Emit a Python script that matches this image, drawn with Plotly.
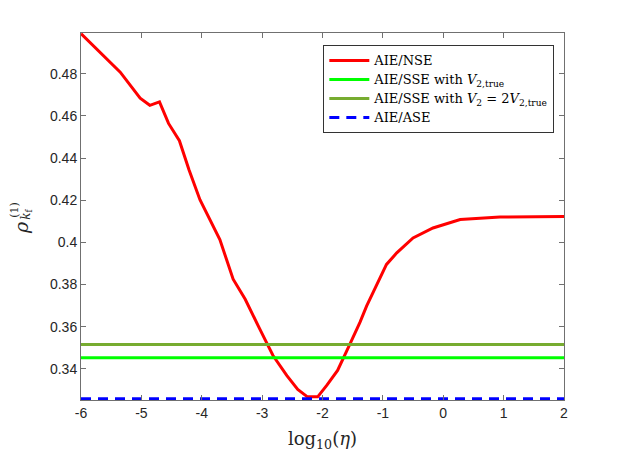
import plotly.graph_objects as go

# log10(eta) sample positions and AIE/NSE values
log_eta = [-6.0, -5.35, -5.02, -4.86, -4.70, -4.55, -4.37, -4.21, -4.03, -3.70,
           -3.48, -3.28, -3.04, -2.82, -2.59, -2.41, -2.25, -2.08, -1.93, -1.75,
           -1.55, -1.38, -1.27, -0.94, -0.77, -0.50, -0.17, 0.28, 0.94, 2.0]
rho_nse = [0.4990, 0.4807, 0.4684, 0.4650, 0.4666, 0.4564, 0.4482, 0.4343, 0.4202, 0.4013,
           0.3825, 0.3730, 0.3589, 0.3463, 0.3368, 0.3302, 0.3267, 0.3267, 0.3321, 0.3392,
           0.3515, 0.3620, 0.3697, 0.3895, 0.3950, 0.4021, 0.4068, 0.4108, 0.4120, 0.4123]

x_ends = [-6.0, 2.0]
rho_sse_true = 0.3452
rho_sse_2x = 0.3515
rho_ase = 0.3258

x_ticks = [-6, -5, -4, -3, -2, -1, 0, 1, 2]
x_tick_text = ["-6", "-5", "-4", "-3", "-2", "-1", "0", "1", "2"]
y_ticks = [0.34, 0.36, 0.38, 0.40, 0.42, 0.44, 0.46, 0.48]
y_tick_text = ["0.34", "0.36", "0.38", "0.4", "0.42", "0.44", "0.46", "0.48"]

serif = "DejaVu Serif, Liberation Serif, serif"
sans = "Liberation Sans, Arial, sans-serif"


def lg(s):
    return '<span style="font-size:13px">' + s + '</span>'


fig = go.Figure()
fig.add_trace(go.Scatter(x=log_eta, y=rho_nse, mode="lines", name=lg("AIE/NSE"),
                         line=dict(color="#FF0000", width=3)))
fig.add_trace(go.Scatter(x=x_ends, y=[rho_sse_true] * 2, mode="lines",
                         name=lg("AIE/SSE with <i>V</i><sub>2,true</sub>"),
                         line=dict(color="#00FF00", width=3)))
fig.add_trace(go.Scatter(x=x_ends, y=[rho_sse_2x] * 2, mode="lines",
                         name=lg("AIE/SSE with <i>V</i><sub>2</sub> = 2<i>V</i><sub>2,true</sub>"),
                         line=dict(color="#77AC30", width=3)))
fig.add_trace(go.Scatter(x=x_ends, y=[rho_ase] * 2, mode="lines", name=lg("AIE/ASE"),
                         line=dict(color="#0000FF", width=3, dash="10px,7px")))

axis_common = dict(showgrid=False, zeroline=False, showline=True, linecolor="#707070",
                   linewidth=1, mirror="ticks", ticks="inside", ticklen=5,
                   tickcolor="#707070", tickfont=dict(family=sans, size=14, color="#262626"))

fig.update_xaxes(range=[-6, 2], tickvals=x_ticks, ticktext=x_tick_text,
                 title=dict(text="log<sub>10</sub>(<i>η</i>)",
                            font=dict(family=serif, size=18, color="#262626"), standoff=12),
                 **axis_common)
fig.update_yaxes(range=[0.3252, 0.4993], tickvals=y_ticks, ticktext=y_tick_text,
                 **axis_common)

# y-axis label built from stacked pieces (rho with super/subscript)
fig.add_annotation(xref="paper", yref="paper", x=-0.124, y=0.469, text="<i>ρ</i>",
                   xanchor="center", yanchor="middle",
                   showarrow=False, textangle=-90,
                   font=dict(family=serif, size=19, color="#262626"))
fig.add_annotation(xref="paper", yref="paper", x=-0.137, y=0.518, text="(1)",
                   xanchor="center", yanchor="middle", borderpad=0,
                   showarrow=False, textangle=-90,
                   font=dict(family=serif, size=11, color="#262626"))
fig.add_annotation(xref="paper", yref="paper", x=-0.112, y=0.507, text="<i>k</i><sub>f</sub>",
                   xanchor="center", yanchor="middle",
                   showarrow=False, textangle=-90,
                   font=dict(family=serif, size=12, color="#262626"))

fig.update_layout(
    width=623, height=451,
    margin=dict(l=73, r=67, t=25, b=59),
    plot_bgcolor="white", paper_bgcolor="white",
    showlegend=True,
    legend=dict(x=0.5017, y=0.967, xanchor="left", yanchor="top",
                bgcolor="white", bordercolor="#333333", borderwidth=1,
                font=dict(family=serif, size=12, color="#000000"),
                tracegroupgap=0, itemwidth=40),
)

fig.write_html("out.html")
